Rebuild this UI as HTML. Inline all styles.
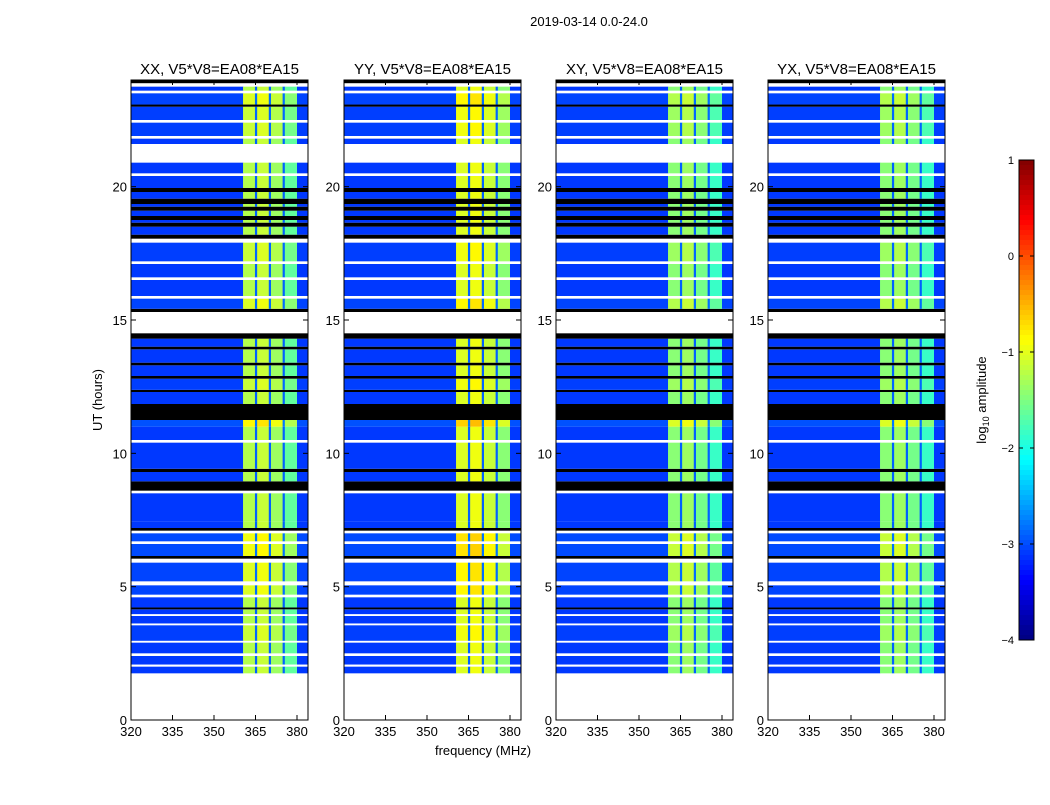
<!DOCTYPE html>
<html><head><meta charset="utf-8">
<style>
body{margin:0;background:#fff;}
svg{font-family:"Liberation Sans",sans-serif;}
</style></head>
<body>
<svg id="fig" width="1050" height="800" xmlns="http://www.w3.org/2000/svg">
<rect width="1050" height="800" fill="#fff"/>
<text x="589" y="26" font-size="13" text-anchor="middle">2019-03-14 0.0-24.0</text>
<text x="483" y="755" font-size="13" text-anchor="middle">frequency (MHz)</text>
<text x="102" y="400" font-size="13" text-anchor="middle" transform="rotate(-90 102 400)">UT (hours)</text>
<g id="panels"></g>
<g id="cbar"></g>
</svg>
<script>
const panelTitles = ["XX, V5*V8=EA08*EA15","YY, V5*V8=EA08*EA15","XY, V5*V8=EA08*EA15","YX, V5*V8=EA08*EA15"];
const panelBright = [0, 0.2, -0.2, -0.2];
const xTicks = [320,335,350,365,380];
const yTicks = [0,5,10,15,20];
const cbTicks = [1,0,-1,-2,-3,-4];
const cbTickLabels = ["1","0","\u22121","\u22122","\u22123","\u22124"];
// frequency channel bands: start, end, log amplitude
const chanStart = [320,360.5,364.8,365.6,369.8,370.6,374.8,375.6,380];
const chanEnd   = [360.5,364.8,365.6,369.8,370.6,374.8,375.6,380,384];
const chanLevel = [-3.1,-1.25,-2.9,-1.15,-2.9,-1.35,-2.9,-1.65,-3.1];
const chanBright= [0,1,0,1,0,1,0,1,0];
// time rows: start hour, end hour, kind ('w' flagged, 'k' black, else offset)
const rows = [
[0,1.75,'w'],[1.75,2.0,0],[2.0,2.08,'w'],[2.08,2.4,0],[2.4,2.5,'w'],[2.5,2.9,0],[2.9,2.97,'w'],[2.97,3.55,0.1],[3.55,3.62,'w'],[3.62,3.9,0],[3.9,3.97,'w'],[3.97,4.15,0],[4.15,4.22,'k'],[4.22,4.6,0],[4.6,4.7,'w'],[4.7,5.05,0.2],[5.05,5.2,'w'],[5.2,5.9,0.2],[5.9,6.05,'w'],[6.05,6.15,'k'],[6.15,6.6,0.3],[6.6,6.7,'w'],[6.7,7.0,0.3],[7.0,7.1,'w'],[7.1,7.2,'k'],[7.2,7.45,0],[7.45,8.5,0],[8.5,8.6,'w'],[8.6,8.95,'k'],[8.95,9.3,0],[9.3,9.42,'k'],[9.42,10.4,0],[10.4,10.5,'w'],[10.5,11.0,0],[11.0,11.25,0.4],[11.25,11.85,'k'],[11.85,12.3,0],[12.3,12.38,'k'],[12.38,12.8,0.1],[12.8,12.9,'k'],[12.9,13.3,0],[13.3,13.4,'k'],[13.4,13.9,0],[13.9,14.0,'k'],[14.0,14.3,0],[14.3,14.5,'k'],[14.5,15.3,'w'],[15.3,15.42,'k'],[15.42,15.8,0.2],[15.8,15.9,'w'],[15.9,16.5,0],[16.5,16.6,'w'],[16.6,17.1,0],[17.1,17.2,'w'],[17.2,17.9,0.1],[17.9,18.05,'w'],[18.05,18.2,'k'],[18.2,18.5,0],[18.5,18.65,'k'],[18.65,18.75,0],[18.75,18.9,'k'],[18.9,19.1,0],[19.1,19.25,'k'],[19.25,19.35,0],[19.35,19.55,'k'],[19.55,19.8,0],[19.8,19.95,'k'],[19.95,20.4,0],[20.4,20.5,'w'],[20.5,20.9,0],[20.9,21.6,'w'],[21.6,21.8,0],[21.8,21.9,'w'],[21.9,22.4,0.1],[22.4,22.5,'w'],[22.5,23.0,0.1],[23.0,23.08,'k'],[23.08,23.5,0.2],[23.5,23.6,'w'],[23.6,23.75,0],[23.75,23.88,'w'],[23.88,24,'k']
];
const panelLeft = [131,344,556,768];
const W=177, TOP=80, BOT=720;
const NS="http://www.w3.org/2000/svg";
function xs(f,l){return l+(f-320)/15*41.5;}
function ys(h){return BOT-(h/24)*(BOT-TOP);}
function jet(v){ // v in -4..1
  let t=(v+4)/5; t=Math.max(0,Math.min(1,t));
  const c=x=>Math.max(0,Math.min(1,x));
  const r=c(1.5-Math.abs(4*t-3)), g=c(1.5-Math.abs(4*t-2)), b=c(1.5-Math.abs(4*t-1));
  return `rgb(${Math.round(r*255)},${Math.round(g*255)},${Math.round(b*255)})`;
}
function mk(tag,attrs,parent){const e=document.createElementNS(NS,tag);for(const k in attrs)e.setAttribute(k,attrs[k]);parent.appendChild(e);return e;}
const P=document.getElementById('panels');
panelLeft.forEach((L,pi)=>{
  const g=mk('g',{},P);
  
  
  rows.forEach(r=>{
    const y0=ys(r[1]), y1=ys(r[0]);
    if(r[2]==='w') return;
    if(r[2]==='k'){
      const e=mk('rect',{x:L,y:y0,width:W,height:y1-y0,fill:'#000'},g);
      
      
      return;
    }
    chanStart.forEach((fs,ci)=>{
      const x0=xs(fs,L), x1=Math.min(xs(chanEnd[ci],L),L+W);
      const v=chanLevel[ci]+r[2]*(chanBright[ci]?1:0.3)+(chanBright[ci]?panelBright[pi]:0);
      const e=mk('rect',{x:x0,y:y0,width:x1-x0+0.3,height:y1-y0,fill:jet(v)},g);
      
      
    });
  });
  mk('rect',{x:L,y:TOP,width:W,height:BOT-TOP,fill:'none',stroke:'#000','stroke-width':1},g);
  const t=mk('text',{x:L+W/2,y:74,'font-size':15,'text-anchor':'middle'},g);
  t.textContent=panelTitles[pi];
  
  
  xTicks.forEach(f=>{
    const x=xs(f,L);
    mk('line',{x1:x,x2:x,y1:BOT,y2:BOT-5,stroke:'#000'},g);
    mk('line',{x1:x,x2:x,y1:TOP,y2:TOP+5,stroke:'#000'},g);
    const tt=mk('text',{x:x,y:BOT+16,'font-size':13,'text-anchor':'middle'},g);
    tt.textContent=f;
    
    
  });
  yTicks.forEach(h=>{
    const y=ys(h);
    mk('line',{x1:L,x2:L+5,y1:y,y2:y,stroke:'#000'},g);
    mk('line',{x1:L+W,x2:L+W-5,y1:y,y2:y,stroke:'#000'},g);
    const tt=mk('text',{x:L-4,y:y+5,'font-size':13,'text-anchor':'end'},g);
    tt.textContent=h;
    
    
  });
});
// colorbar
const C=document.getElementById('cbar');
const cbTop=160, cbBot=640, cbX=1019, cbW=15;
for(let i=0;i<96;i++){
  const v=1-i*5/96;
  mk('rect',{x:cbX,y:cbTop+i*5,width:cbW,height:5.3,fill:jet(v-5/192)},C);
}
mk('rect',{x:cbX,y:cbTop,width:cbW,height:cbBot-cbTop,fill:'none',stroke:'#000'},C);
cbTicks.forEach((v,i)=>{
  const y=cbTop+(1-v)/5*(cbBot-cbTop);
  mk('line',{x1:cbX,x2:cbX+4,y1:y,y2:y,stroke:'#000'},C);
  mk('line',{x1:cbX+cbW,x2:cbX+cbW-4,y1:y,y2:y,stroke:'#000'},C);
  const t=mk('text',{x:cbX-5,y:y+4,'font-size':11,'text-anchor':'end'},C);
  t.textContent=cbTickLabels[i];
  
  
});
const cl=mk('text',{x:986,y:400,'font-size':13,'text-anchor':'middle',transform:'rotate(-90 986 400)'},C);
cl.innerHTML='log<tspan font-size="9" dy="3">10</tspan><tspan dy="-3"> amplitude</tspan>';


</script>
</body></html>
